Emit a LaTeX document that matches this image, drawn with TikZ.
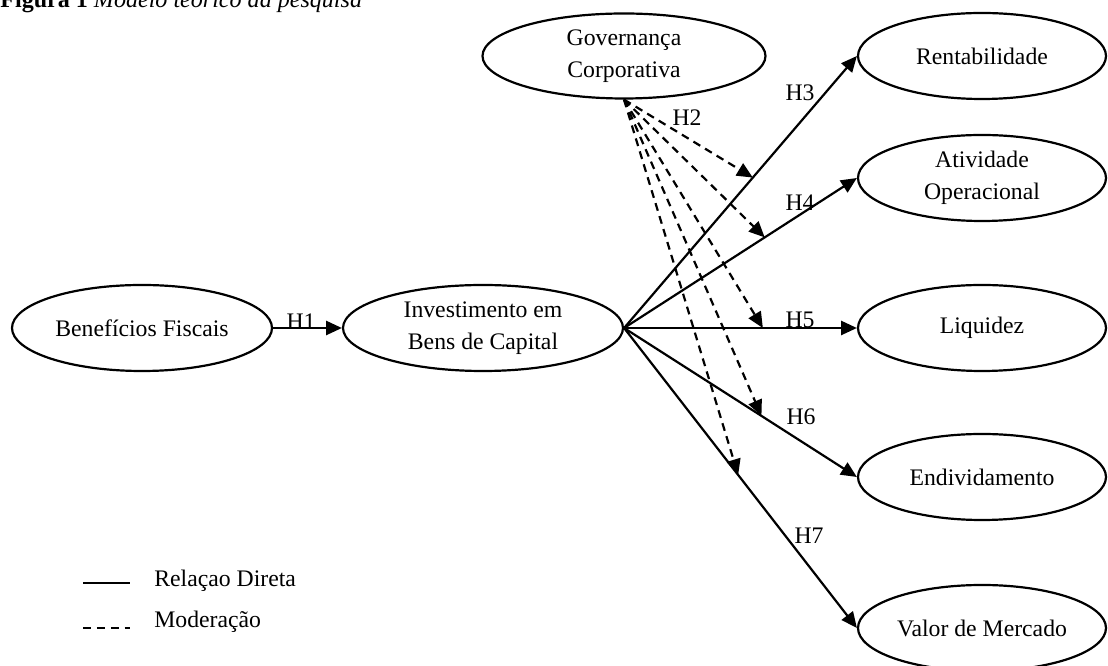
\documentclass[tikz,border=0pt]{standalone}
\usepackage{fontspec}
\setmainfont{Liberation Serif}
\usetikzlibrary{arrows.meta,shapes.geometric}
\tikzset{
  construct/.style={ellipse,draw,line width=1.25pt,inner sep=0pt,minimum height=1.72cm,
    align=center,font=\fontsize{13.5}{18}\selectfont},
  hyp/.style={inner sep=0pt,font=\fontsize{13.5}{16}\selectfont},
  direct/.style={line width=1.25pt,-{Triangle[length=9pt,width=8pt]}},
  moder/.style={line width=1.25pt,dash pattern=on 4.5pt off 3.2pt,-{Triangle[length=9pt,width=8pt]}}
}

\begin{document}
\begin{tikzpicture}
  \useasboundingbox (0,0) rectangle (22.16,-13.32);
  \node[anchor=base west,inner sep=0pt,font=\fontsize{13.7}{16}\selectfont] (title) at (0,-0.16)
    {\textbf{Figura 1} \textit{Modelo teórico da pesquisa}};
  % constructs
  \node[construct,minimum width=5.2cm] (ben) at (2.84,-6.56) {Benefícios Fiscais};
  \node[construct,minimum width=5.6cm] (inv) at (9.66,-6.56) {Investimento em\\Bens de Capital};
  \node[construct,minimum width=5.66cm,minimum height=1.7cm] (gov) at (12.48,-1.12) {Governança\\Corporativa};
  \foreach \nm/\y/\txt in {rent/-1.12/Rentabilidade,ativ/-3.56/{Atividade\\Operacional},
      liq/-6.56/Liquidez,endiv/-9.54/Endividamento,valor/-12.56/Valor de Mercado} {
    \node[construct,minimum width=4.96cm] (\nm) at (19.64,\y) {\txt};
  }
  % direct effects
  \draw[direct] (ben) -- (inv);
  \node[hyp] (h1) at (6.02,-6.44) {H1};
  \foreach \nm/\p/\h/\lx/\ly in {rent/0.553/3/16.0/-1.86,ativ/0.604/4/16.0/-4.06,
      liq/0.596/5/16.0/-6.40,endiv/0.59/6/16.02/-8.34,valor/0.49/7/16.18/-10.72} {
    \draw[direct] (inv.east) -- (\nm.west) coordinate[pos=\p] (m\h);
    \node[hyp] (h\h) at (\lx,\ly) {H\h};
  }
  % moderation
  \foreach \h in {3,...,7} {
    \draw[moder] (gov.south) -- (m\h);
  }
  \node[hyp] (h2) at (13.74,-2.36) {H2};
  % legend
  \node[hyp,anchor=west] (legdir) at (3.08,-11.62) {Relaçao Direta};
  \node[hyp,anchor=west] (legmod) at (3.08,-12.44) {Moderação};
  \coordinate (d1) at (1.66,-11.66);
  \coordinate (d2) at (2.60,-11.66);
  \coordinate (e1) at (1.66,-12.56);
  \coordinate (e2) at (2.60,-12.56);
  \draw[line width=1.25pt] (d1) -- (d2);
  \draw[line width=1.25pt,dash pattern=on 4.5pt off 3.4pt] (e1) -- (e2);
\end{tikzpicture}
\end{document}
